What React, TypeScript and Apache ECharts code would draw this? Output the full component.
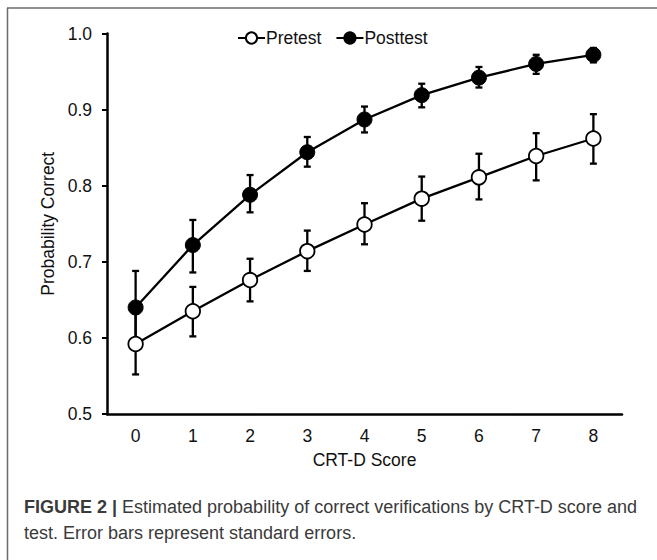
import React, { useEffect, useRef } from "react";
import * as echarts from "echarts";

const categories = ["0", "1", "2", "3", "4", "5", "6", "7", "8"];
const pretest = [0.592, 0.635, 0.676, 0.714, 0.749, 0.783, 0.811, 0.839, 0.862];
const pretestLow = [0.552, 0.602, 0.648, 0.688, 0.723, 0.754, 0.782, 0.807, 0.829];
const pretestHigh = [0.632, 0.667, 0.704, 0.741, 0.777, 0.812, 0.842, 0.869, 0.894];
const posttest = [0.64, 0.722, 0.788, 0.844, 0.887, 0.919, 0.942, 0.96, 0.972];
const posttestLow = [0.592, 0.686, 0.765, 0.825, 0.87, 0.903, 0.929, 0.947, 0.962];
const posttestHigh = [0.688, 0.755, 0.814, 0.864, 0.904, 0.934, 0.956, 0.972, 0.981];
const yTicks = [0.5, 0.6, 0.7, 0.8, 0.9, 1.0];

const FONT = "Liberation Sans, Arial, sans-serif";
const FS = 17.5;

function errorSeries(low: number[], high: number[], name: string) {
  return {
    type: "custom",
    name: name + "-err",
    z: 1,
    silent: true,
    data: low.map((l, i) => [i, l, high[i]]),
    renderItem: (params: any, api: any) => {
      const i = api.value(0);
      const lo = api.coord([i, api.value(1)]);
      const hi = api.coord([i, api.value(2)]);
      const cap = 3.5;
      const style = { stroke: "#000", lineWidth: 2.3 };
      return {
        type: "group",
        children: [
          { type: "line", shape: { x1: lo[0], y1: lo[1], x2: hi[0], y2: hi[1] }, style },
          { type: "line", shape: { x1: lo[0] - cap, y1: lo[1], x2: lo[0] + cap, y2: lo[1] }, style },
          { type: "line", shape: { x1: hi[0] - cap, y1: hi[1], x2: hi[0] + cap, y2: hi[1] }, style },
        ],
      };
    },
  };
}

export default function App() {
  const ref = useRef<HTMLDivElement>(null);
  useEffect(() => {
    const chart = echarts.init(ref.current!, undefined, { renderer: "svg" });
    chart.setOption({
      animation: false,
      backgroundColor: "#fff",
      textStyle: { fontFamily: FONT },
      grid: { left: 107, right: 35, top: 33.5, bottom: 146 },
      legend: {
        left: 232,
        top: 24,
        itemWidth: 27,
        itemHeight: 14,
        itemGap: 14,
        textStyle: { fontSize: FS, color: "#111", fontFamily: FONT, padding: [0, 0, 0, -4] },
        data: ["Pretest", "Posttest"],
      },
      xAxis: {
        type: "category",
        data: categories,
        boundaryGap: true,
        name: "CRT-D Score",
        nameLocation: "middle",
        nameGap: 37,
        nameTextStyle: { fontSize: FS, color: "#111", fontFamily: FONT },
        axisLine: { lineStyle: { color: "#000", width: 2.5 } },
        axisTick: { show: false },
        axisLabel: { fontSize: FS, color: "#111", margin: 13, fontFamily: FONT },
        splitLine: { show: false },
      },
      yAxis: {
        type: "value",
        min: yTicks[0],
        max: yTicks[yTicks.length - 1],
        interval: 0.1,
        name: "Probability Correct",
        nameLocation: "middle",
        nameGap: 45,
        nameTextStyle: { fontSize: FS, color: "#111", fontFamily: FONT },
        axisLine: { show: true, lineStyle: { color: "#000", width: 2.5 } },
        axisTick: { show: true, length: 5, lineStyle: { color: "#000", width: 2 } },
        axisLabel: {
          fontSize: FS,
          color: "#111",
          margin: 15,
          fontFamily: FONT,
          formatter: (v: number) => v.toFixed(1),
        },
        splitLine: { show: false },
      },
      series: [
        errorSeries(pretestLow, pretestHigh, "Pretest"),
        errorSeries(posttestLow, posttestHigh, "Posttest"),
        {
          type: "line",
          name: "Pretest",
          data: pretest,
          z: 3,
          symbol: "circle",
          symbolSize: 14.5,
          lineStyle: { color: "#000", width: 2.3 },
          itemStyle: { color: "#fff", borderColor: "#000", borderWidth: 1.8 },
        },
        {
          type: "line",
          name: "Posttest",
          data: posttest,
          z: 4,
          symbol: "circle",
          symbolSize: 15,
          lineStyle: { color: "#000", width: 2.3 },
          itemStyle: { color: "#000", borderColor: "#000", borderWidth: 1 },
        },
      ],
      graphic: [
        { type: "line", shape: { x1: 7, y1: 8, x2: 657, y2: 8 }, style: { stroke: "#6b6b6b", lineWidth: 1.5 } },
        { type: "line", shape: { x1: 7.5, y1: 8, x2: 7.5, y2: 560 }, style: { stroke: "#6b6b6b", lineWidth: 1.5 } },
        {
          type: "text",
          x: 24,
          y: 498,
          style: {
            text: "{b|FIGURE 2 |} Estimated probability of correct verifications by CRT-D score and",
            fontSize: 18,
            fill: "#3a3a3a",
            fontFamily: FONT,
            rich: { b: { fontWeight: "bold", fontSize: 18, fill: "#3a3a3a", fontFamily: FONT } },
          },
        },
        {
          type: "text",
          x: 24,
          y: 524,
          style: {
            text: "test. Error bars represent standard errors.",
            fontSize: 18,
            fill: "#3a3a3a",
            fontFamily: FONT,
          },
        },
      ],
    });
    return () => chart.dispose();
  }, []);
  return (
    <div
      ref={ref}
      style={{ position: "fixed", left: 0, top: 0, width: 657, height: 560 }}
    />
  );
}
